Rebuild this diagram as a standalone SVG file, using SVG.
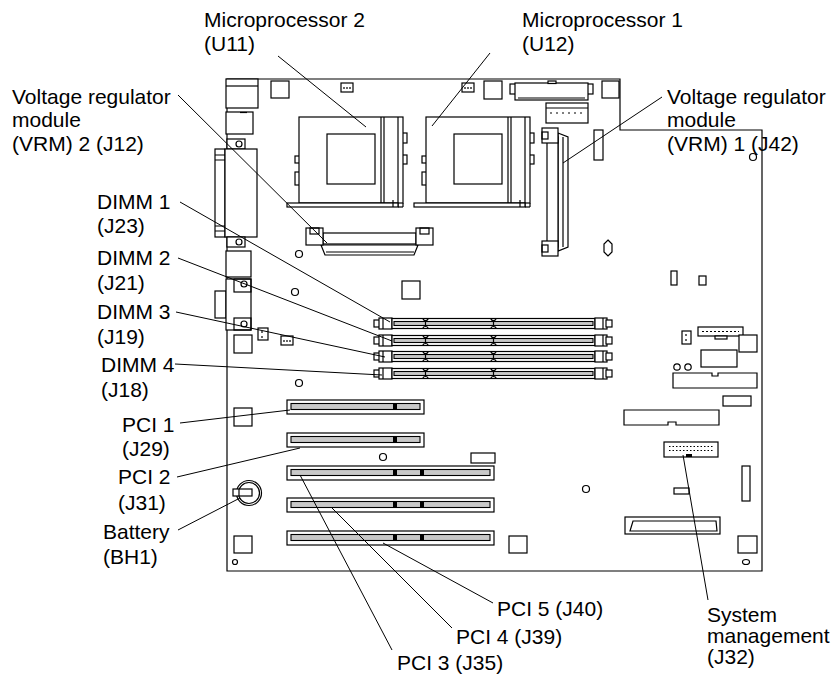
<svg xmlns="http://www.w3.org/2000/svg" xmlns:xlink="http://www.w3.org/1999/xlink" width="837" height="696" viewBox="0 0 837 696">
<style>
.b{fill:none;stroke:#000;stroke-width:1.2}
.w{fill:#fff;stroke:#000;stroke-width:1.2}
.g{fill:#c8c8c8;stroke:#000;stroke-width:1.1}
.k{fill:#000;stroke:none}
.ld{fill:none;stroke:#000;stroke-width:1}
text{font-family:"Liberation Sans",Arial,sans-serif;font-size:21px;fill:#000}
</style>
<defs>
<g id="dimm">
<rect class="w" x="374" y="2" width="7" height="7"/>
<rect class="w" x="379" y="0" width="13" height="11"/>
<line class="b" x1="383" y1="0" x2="383" y2="11"/>
<rect class="w" x="392" y="0.5" width="203" height="10"/>
<rect class="g" x="394" y="3.5" width="199" height="4"/>
<path class="b" d="M423,0.5 a2.5,2 0 0 0 5,0 M491,0.5 a2.5,2 0 0 0 5,0 M423,10.5 a2.5,2 0 0 1 5,0 M491,10.5 a2.5,2 0 0 1 5,0 M425.5,3.5 v4 M493.5,3.5 v4"/>
<rect class="w" x="595" y="0" width="12" height="11"/>
<line class="b" x1="603" y1="0" x2="603" y2="11"/>
<rect class="w" x="606" y="2" width="6" height="7"/>
</g>
<g id="pcis">
<rect class="w" x="287" y="0" width="137" height="14"/>
<rect class="g" x="291" y="3.5" width="129" height="6" stroke-width="1.8"/>
<rect class="k" x="393" y="3" width="4" height="7"/>
</g>
<g id="pcil">
<rect class="w" x="287" y="0" width="207" height="14"/>
<rect class="g" x="291" y="3.5" width="199" height="6" stroke-width="1.8"/>
<rect class="k" x="393" y="3" width="4" height="7"/>
<rect class="k" x="420" y="3" width="4" height="7"/>
</g>
<g id="socket">
<rect class="w" x="295" y="156" width="5" height="7"/>
<rect class="w" x="295" y="172" width="5" height="13"/>
<rect class="w" x="402" y="133" width="5" height="10"/>
<rect class="w" x="402" y="155" width="5" height="9"/>
<rect class="w" x="299" y="117" width="104" height="86"/>
<rect class="b" x="327" y="134" width="48" height="50"/>
<line class="b" x1="381" y1="117" x2="381" y2="203"/>
<line class="b" x1="384" y1="117" x2="384" y2="203"/>
<line class="b" x1="398" y1="117" x2="398" y2="207"/>
<rect class="w" x="287" y="203" width="111" height="4"/>
<line class="b" x1="393" y1="200" x2="393" y2="207"/>
<line class="b" x1="398" y1="207" x2="403" y2="207"/>
<line class="b" x1="403" y1="203" x2="403" y2="207"/>
</g>
<g id="pin3">
<rect class="w" x="0" y="0" width="12" height="9"/>
<path class="b" d="M3,4 v2 M6,4 v2 M9,4 v2"/>
</g>
</defs>

<g id="board">
<path class="b" d="M227,79 H620 V130 H762 V571 H227 Z"/>
</g>

<g id="left-connectors">
<rect class="w" x="226" y="79" width="32" height="29"/>
<line class="b" x1="226" y1="86" x2="258" y2="86"/>
<rect class="w" x="226" y="112" width="27" height="22"/>
<line class="b" x1="240" y1="112.5" x2="247" y2="112.5" stroke-width="2"/>
<rect class="w" x="227" y="139" width="18" height="10"/>
<circle class="b" cx="239" cy="144" r="3"/>
<rect class="w" x="215" y="149" width="10" height="88"/>
<path class="b" d="M215,155 H225 M215,160 H225 M215,226 H225 M215,231 H225"/>
<rect class="w" x="225" y="149" width="32" height="88"/>
<rect class="w" x="227" y="237" width="18" height="10"/>
<circle class="b" cx="239" cy="242" r="3"/>
<rect class="w" x="226" y="251" width="25" height="26"/>
<rect class="w" x="215" y="291" width="11" height="27"/>
<rect class="w" x="226" y="279" width="25" height="51"/>
<rect class="b" x="234" y="279" width="17" height="13"/>
<circle class="b" cx="244" cy="284" r="3"/>
<rect class="b" x="234" y="318" width="17" height="12"/>
<circle class="b" cx="244" cy="324" r="3"/>
<rect class="w" x="234" y="335" width="18" height="18"/>
<rect class="w" x="258" y="328" width="10" height="12"/>
<path class="b" d="M262,331 v2 M262,336 v2"/>
<use xlink:href="#pin3" x="281" y="336"/>
<rect class="w" x="234" y="408" width="18" height="18"/>
<circle class="b" cx="299" cy="254" r="3.5"/>
<circle class="b" cx="295" cy="292" r="3.5"/>
<circle class="b" cx="299" cy="383" r="3.5"/>
<rect class="w" x="402" y="281" width="18" height="18"/>
</g>

<g id="top-connectors">
<rect class="w" x="271" y="81" width="18" height="17"/>
<use xlink:href="#pin3" x="341" y="83"/>
<use xlink:href="#pin3" x="462" y="83"/>
<rect class="w" x="484" y="81" width="18" height="18"/>
<rect class="w" x="510" y="84" width="6" height="10"/>
<rect class="w" x="587" y="84" width="6" height="10"/>
<rect class="w" x="515" y="83" width="73" height="17"/>
<line class="b" x1="518" y1="98" x2="585" y2="98"/>
<rect class="w" x="548" y="81" width="8" height="2.5"/>
<rect class="w" x="602" y="81" width="17" height="17"/>
<rect class="w" x="546" y="103" width="42" height="20"/>
<line class="b" x1="546" y1="108" x2="588" y2="108"/>
<path class="b" d="M550,113 h2 M556,113 h2 M562,113 h2 M568,113 h2 M574,113 h2 M580,113 h2" stroke-width="2"/>
</g>

<g id="microprocessor-2">
<use xlink:href="#socket"/>
</g>
<g id="microprocessor-1">
<use xlink:href="#socket" x="127"/>
</g>

<g id="vrm-2">
<path class="w" d="M321,245 L325,255 H414 L418,245 Z"/>
<line class="b" x1="326" y1="252" x2="414" y2="252"/>
<rect class="w" x="323" y="233" width="93" height="11"/>
<rect class="w" x="306" y="228" width="17" height="17"/>
<rect class="b" x="310" y="228" width="9" height="6"/>
<rect class="w" x="416" y="228" width="17" height="17"/>
<rect class="b" x="420" y="228" width="9" height="6"/>
</g>

<g id="vrm-1">
<path class="w" d="M558,133 L568,137 V247 L558,251 Z"/>
<line class="b" x1="563" y1="137" x2="563" y2="247"/>
<rect class="w" x="547" y="137" width="11" height="110"/>
<rect class="w" x="542" y="128" width="16" height="15"/>
<rect class="b" x="542" y="132" width="6" height="7"/>
<rect class="w" x="542" y="241" width="16" height="15"/>
<rect class="b" x="542" y="245" width="6" height="7"/>
</g>

<g id="right-components">
<rect class="w" x="594" y="130" width="9" height="30"/>
<circle class="b" cx="753" cy="157" r="3.5"/>
<path class="b" d="M608,240 L612,244 V252 L608,256 L604,252 V244 Z"/>
<rect class="w" x="671" y="271" width="6" height="14"/>
<rect class="w" x="699" y="276" width="7" height="9"/>
<rect class="w" x="682" y="331" width="9" height="13"/>
<path class="b" d="M686,334 v2 M686,339 v2"/>
<rect class="w" x="698" y="327" width="45" height="9"/>
<rect class="w" x="715" y="336" width="12" height="3"/>
<path class="b" d="M702,331.5 H739" stroke-width="2.5" stroke-dasharray="2,2"/>
<rect class="w" x="739" y="335" width="18" height="17"/>
<rect class="w" x="701" y="350" width="36" height="17"/>
<circle class="b" cx="677" cy="367" r="3.2"/>
<circle class="b" cx="688" cy="367" r="3.2"/>
<path class="w" d="M673,373 H712 V376 H718 V373 H757 V388 H673 Z"/>
<rect class="w" x="723" y="396" width="28" height="10"/>
<path class="w" d="M624,410 H719 V425 H676 V422 H668 V425 H624 Z"/>
<rect class="w" x="742" y="466" width="8" height="35"/>
<circle class="b" cx="586" cy="489" r="3.5"/>
<rect class="w" x="674" y="488" width="15" height="6"/>
<rect class="w" x="625" y="517" width="95" height="17"/>
<path class="b" d="M633,521 L716,521 L717,531 L630,531 Z"/>
<rect class="w" x="509" y="536" width="18" height="17"/>
<rect class="w" x="738" y="536" width="19" height="17"/>
<ellipse class="b" cx="746" cy="562" rx="3.5" ry="2.5"/>
<circle class="b" cx="383" cy="457" r="3.5"/>
<rect class="w" x="471" y="453" width="24" height="10"/>
<rect class="w" x="234" y="536" width="18" height="17"/>
<circle class="b" cx="235" cy="562" r="2.5"/>
</g>

<g id="system-management">
<rect class="w" x="664" y="442" width="54" height="15" stroke-width="2.6"/>
<path class="b" d="M669,446.5 H713 M669,450.5 H713" stroke-width="1.6" stroke-dasharray="1.5,2"/>
<rect class="k" x="686" y="454" width="6" height="3"/>
</g>

<g id="dimm-1"><use xlink:href="#dimm" y="318"/></g>
<g id="dimm-2"><use xlink:href="#dimm" y="335"/></g>
<g id="dimm-3"><use xlink:href="#dimm" y="351"/></g>
<g id="dimm-4"><use xlink:href="#dimm" y="368"/></g>

<g id="pci-1"><use xlink:href="#pcis" y="400"/></g>
<g id="pci-2"><use xlink:href="#pcis" y="433"/></g>
<g id="pci-3"><use xlink:href="#pcil" y="466"/></g>
<g id="pci-4"><use xlink:href="#pcil" y="498"/></g>
<g id="pci-5"><use xlink:href="#pcil" y="531"/></g>

<g id="battery">
<circle class="w" cx="249" cy="493" r="12.5"/>
<circle class="b" cx="249" cy="493" r="10.5"/>
<rect class="w" x="233" y="489" width="19" height="7"/>
<line class="b" x1="239" y1="489" x2="239" y2="496"/>
</g>

<g id="connectors">
<line class="ld" x1="278" y1="56" x2="366" y2="127"/>
<line class="ld" x1="490" y1="53" x2="432" y2="126"/>
<line class="ld" x1="178" y1="95" x2="327" y2="243"/>
<line class="ld" x1="662" y1="97" x2="563" y2="163"/>
<line class="ld" x1="180" y1="202" x2="390" y2="322"/>
<line class="ld" x1="178" y1="258" x2="392" y2="341"/>
<line class="ld" x1="176" y1="312" x2="385" y2="357"/>
<line class="ld" x1="175" y1="364" x2="382" y2="375"/>
<line class="ld" x1="180" y1="423" x2="290" y2="410"/>
<line class="ld" x1="177" y1="477" x2="300" y2="448"/>
<line class="ld" x1="178" y1="530" x2="240" y2="498"/>
<line class="ld" x1="300" y1="475" x2="392" y2="650"/>
<line class="ld" x1="331" y1="507" x2="452" y2="628"/>
<line class="ld" x1="383" y1="543" x2="493" y2="603"/>
<line class="ld" x1="683" y1="455" x2="708" y2="600"/>
</g>

<g id="labels">
<text x="204" y="27">Microprocessor 2</text>
<text x="204" y="51">(U11)</text>
<text x="522" y="27">Microprocessor 1</text>
<text x="522" y="51">(U12)</text>
<text x="12" y="104">Voltage regulator</text>
<text x="12" y="127">module</text>
<text x="12" y="151">(VRM) 2 (J12)</text>
<text x="667" y="104">Voltage regulator</text>
<text x="667" y="127">module</text>
<text x="667" y="151">(VRM) 1 (J42)</text>
<text x="97" y="209">DIMM 1</text>
<text x="97" y="233">(J23)</text>
<text x="97" y="265">DIMM 2</text>
<text x="97" y="290">(J21)</text>
<text x="97" y="319">DIMM 3</text>
<text x="97" y="344">(J19)</text>
<text x="101" y="372">DIMM 4</text>
<text x="101" y="397">(J18)</text>
<text x="122" y="432">PCI 1</text>
<text x="122" y="456">(J29)</text>
<text x="118" y="484">PCI 2</text>
<text x="118" y="510">(J31)</text>
<text x="103" y="539">Battery</text>
<text x="103" y="564">(BH1)</text>
<text x="497" y="616">PCI 5 (J40)</text>
<text x="456" y="644">PCI 4 (J39)</text>
<text x="397" y="670">PCI 3 (J35)</text>
<text x="707" y="622">System</text>
<text x="707" y="643">management</text>
<text x="707" y="664">(J32)</text>
</g>
</svg>
